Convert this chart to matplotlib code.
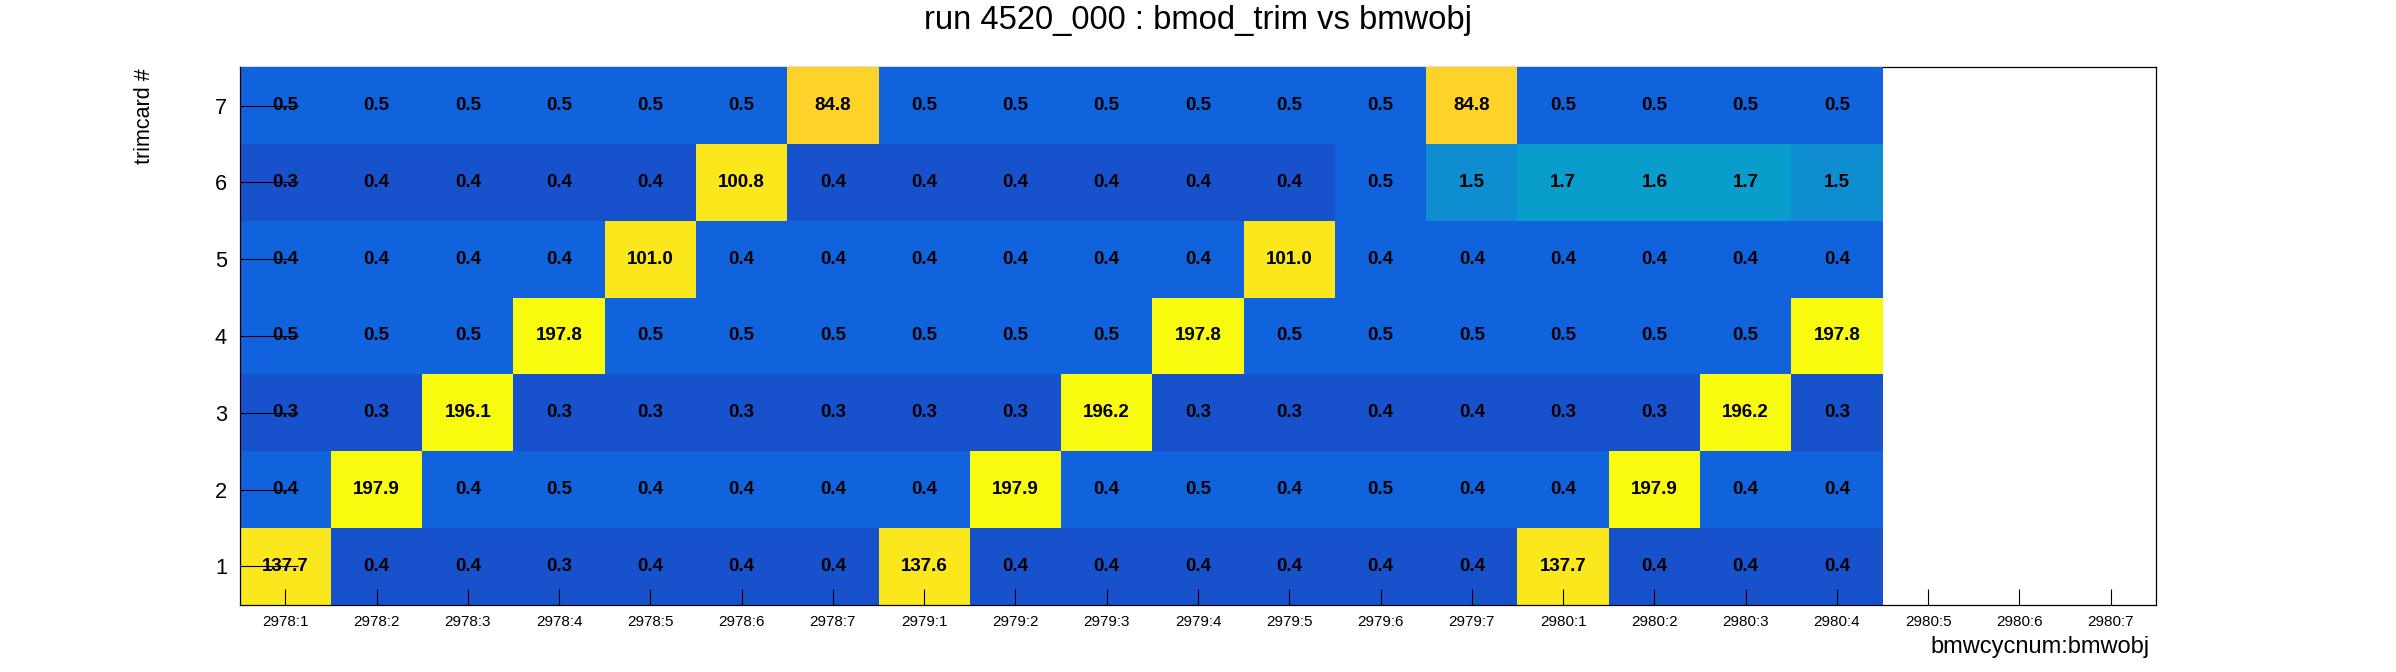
import numpy as np
import matplotlib
matplotlib.use("Agg")
import matplotlib.pyplot as plt
from matplotlib.colors import LinearSegmentedColormap, ListedColormap, BoundaryNorm

plt.rcParams['font.family'] = ['Liberation Sans', 'DejaVu Sans']

# x bins: bmwcycnum:bmwobj
cycles = ["2978:1", "2978:2", "2978:3", "2978:4", "2978:5", "2978:6", "2978:7",
          "2979:1", "2979:2", "2979:3", "2979:4", "2979:5", "2979:6", "2979:7",
          "2980:1", "2980:2", "2980:3", "2980:4", "2980:5", "2980:6", "2980:7"]
trimcards = [1, 2, 3, 4, 5, 6, 7]

# bin contents per trimcard (filled cycles only, 2980:5..7 are empty)
trim1 = [137.7, 0.38, 0.38, 0.33, 0.38, 0.38, 0.38, 137.6, 0.38, 0.38, 0.38, 0.38, 0.38, 0.38, 137.7, 0.38, 0.38, 0.38]
trim2 = [0.42, 197.9, 0.42, 0.48, 0.42, 0.42, 0.42, 0.42, 197.9, 0.42, 0.48, 0.42, 0.48, 0.42, 0.42, 197.9, 0.42, 0.42]
trim3 = [0.33, 0.33, 196.1, 0.33, 0.33, 0.33, 0.33, 0.33, 0.33, 196.2, 0.33, 0.33, 0.37, 0.37, 0.33, 0.33, 196.2, 0.33]
trim4 = [0.49, 0.49, 0.49, 197.8, 0.49, 0.49, 0.49, 0.49, 0.49, 0.49, 197.8, 0.49, 0.49, 0.49, 0.49, 0.49, 0.49, 197.8]
trim5 = [0.42, 0.42, 0.42, 0.42, 101.0, 0.42, 0.42, 0.42, 0.42, 0.42, 0.42, 101.0, 0.42, 0.42, 0.42, 0.42, 0.42, 0.42]
trim6 = [0.33, 0.38, 0.38, 0.38, 0.38, 100.8, 0.38, 0.38, 0.38, 0.38, 0.38, 0.38, 0.47, 1.52, 1.68, 1.62, 1.68, 1.52]
trim7 = [0.5, 0.5, 0.5, 0.5, 0.5, 0.5, 84.8, 0.5, 0.5, 0.5, 0.5, 0.5, 0.5, 84.8, 0.5, 0.5, 0.5, 0.5]

rows = [trim1, trim2, trim3, trim4, trim5, trim6, trim7]
nx = len(cycles)
grid = np.full((len(trimcards), nx), np.nan)
for i, r in enumerate(rows):
    grid[i, :len(r)] = r

# ROOT kBird palette
stops = [0.0, 0.125, 0.25, 0.375, 0.5, 0.625, 0.75, 0.875, 1.0]
red = [0.2082, 0.0592, 0.0780, 0.0232, 0.1802, 0.5301, 0.8186, 0.9956, 0.9764]
green = [0.1664, 0.3599, 0.5041, 0.6419, 0.7178, 0.7492, 0.7328, 0.7862, 0.9832]
blue = [0.5293, 0.8684, 0.8385, 0.7914, 0.6425, 0.4662, 0.3499, 0.1968, 0.0539]
bird = LinearSegmentedColormap.from_list(
    "bird", list(zip(stops, zip(red, green, blue))), N=255)

# 20 log-spaced contours, colours picked the way THistPainter does
ndivz = 20
zmax = np.nanmax(grid)
zmin = min(1.0, 0.001 * zmax)
levels = np.logspace(np.log10(zmin), np.log10(zmax), ndivz + 1)
idx = [min(254, int((i + 0.99) * 255 / ndivz)) for i in range(ndivz)]
cmap = ListedColormap([bird(k / 254) for k in idx])
norm = BoundaryNorm(levels, ndivz, clip=True)

fig = plt.figure(figsize=(23.96, 6.72), dpi=100)
ax = fig.add_axes([0.1, 0.1, 0.8, 0.8])

xedges = np.arange(nx + 1)
yedges = np.arange(len(trimcards) + 1) + 0.5
ax.pcolormesh(xedges, yedges, np.ma.masked_invalid(grid), cmap=cmap, norm=norm,
              edgecolors='none', antialiased=False, zorder=1)

for i, r in enumerate(rows):
    for j, v in enumerate(r):
        ax.text(j + 0.5, trimcards[i], "%.1f" % v, ha='center', va='center',
                fontsize=13.5, fontweight='bold', color='black', zorder=3)

ax.set_xlim(0, nx)
ax.set_ylim(0.5, len(trimcards) + 0.5)
ax.set_xticks(np.arange(nx) + 0.5)
ax.set_xticklabels(cycles)
ax.set_yticks(trimcards)
ax.set_yticklabels([str(t) for t in trimcards])
ax.tick_params(axis='x', direction='in', length=11.5, width=0.8, pad=7, labelsize=11)
ax.tick_params(axis='y', direction='in', length=41.4, width=0.8, pad=9, labelsize=15.7)
ax.minorticks_off()

for s in ax.spines.values():
    s.set_linewidth(0.9)
ax.spines['top'].set_zorder(0.5)

fig.text(0.5, 0.969, "run 4520_000 : bmod_trim vs bmwobj", ha='center', va='center', fontsize=23.6)
fig.text(0.897, 0.028, "bmwcycnum:bmwobj", ha='right', va='baseline', fontsize=17)
fig.text(0.0605, 0.898, "trimcard #", rotation=90, ha='center', va='top', fontsize=15.5)

fig.savefig("out.png", dpi=100, facecolor='white')
